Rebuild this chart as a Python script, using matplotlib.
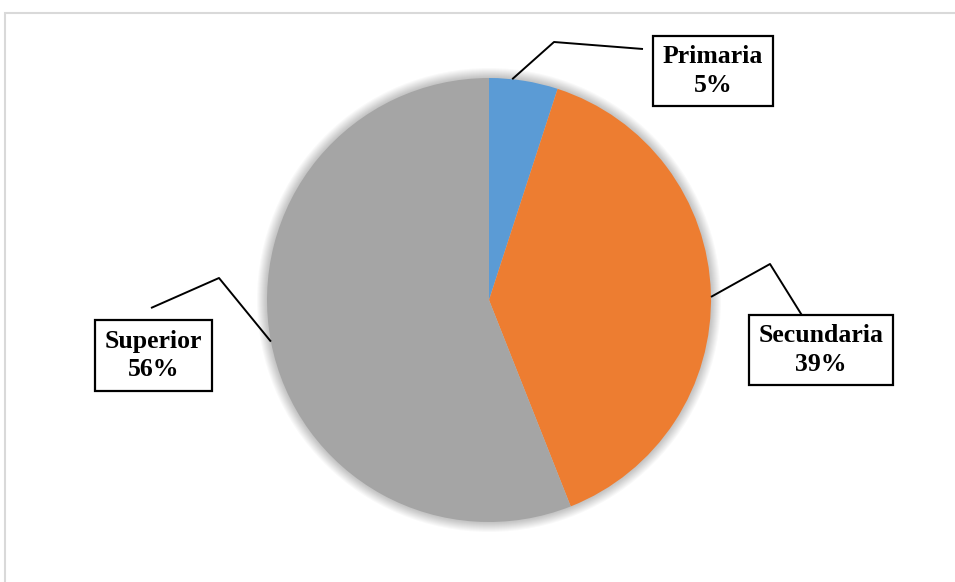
import numpy as np
import matplotlib.pyplot as plt
from matplotlib.patches import Circle, Rectangle

labels = ["Primaria", "Secundaria", "Superior"]
shares = [5, 39, 56]
colors = ["#5B9BD5", "#ED7D31", "#A5A5A5"]

W, H = 955, 582
fig = plt.figure(figsize=(W / 100, H / 100), dpi=100)
ax = fig.add_axes([0, 0, 1, 1])

cx, cy, r = 489, H - 300, 222

wedges, _ = ax.pie(shares, colors=colors, startangle=90, counterclock=False,
                   center=(cx, cy), radius=r, wedgeprops=dict(lw=0))
for w in wedges:
    w.set_zorder(2)

# pie() resets the limits, so set the pixel-like frame afterwards
ax.set_xlim(0, W)
ax.set_ylim(0, H)
ax.set_aspect("equal")
ax.axis("off")

# outer chart frame (only left and top visible in the crop)
ax.add_patch(Rectangle((4.5, -20), W + 40, H - 12.5 + 20, fill=False,
                       edgecolor="#d9d9d9", lw=1.5, clip_on=False))

# soft shadow behind the pie
for i in range(10, 0, -1):
    ax.add_patch(Circle((cx, cy), r + i, color="#000000", alpha=0.022, lw=0, zorder=1))

# elbow point, line end and label box centre per slice (pixels, y from top)
elbows = [(554, 42), (770, 264), (219, 278)]
ends = [(643, 49), (803, 317), (151, 308)]
boxes = [(713, 71), (821, 350), (153.5, 355.5)]
anchor_shift = [3, -1, 0]  # degrees, nudges where the leader meets the rim

for w, lab, val, el, en, bx, sh in zip(wedges, labels, shares, elbows, ends, boxes, anchor_shift):
    ang = np.deg2rad((w.theta1 + w.theta2) / 2 + sh)
    x0, y0 = cx + r * np.cos(ang), cy + r * np.sin(ang)
    ax.plot([x0, el[0], en[0]], [y0, H - el[1], H - en[1]], color="black",
            lw=1.4, zorder=3, solid_capstyle="butt")
    ax.text(bx[0], H - bx[1], f"{lab}\n{val}%", ha="center", va="center",
            fontsize=18.5, fontweight="bold", family="Liberation Serif",
            linespacing=1.3, zorder=4,
            bbox=dict(boxstyle="square,pad=0.38", fc="white", ec="black", lw=1.6))

fig.savefig("out.png", dpi=100)
